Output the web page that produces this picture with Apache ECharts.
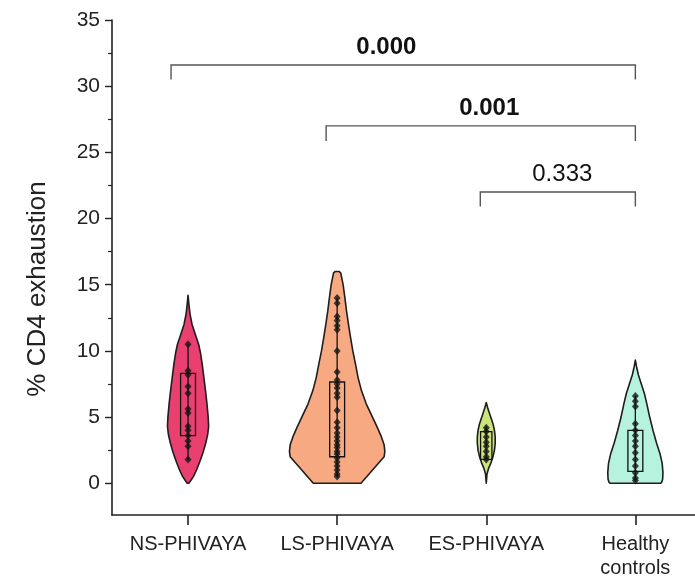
<!DOCTYPE html>
<html>
<head>
<meta charset="utf-8">
<script src="https://cdn.jsdelivr.net/npm/echarts@6/dist/echarts.min.js"></script>
<style>
html,body{margin:0;padding:0;background:#fff;}
#chart{width:695px;height:581px;}
</style>
</head>
<body>
<div id="chart"></div>
<script>
// ---- data ----
const categories = ['NS-PHIVAYA', 'LS-PHIVAYA', 'ES-PHIVAYA', 'Healthy\ncontrols'];
const yTickValues = [0, 5, 10, 15, 20, 25, 30, 35];
const yMinorTickValues = [2.5, 7.5, 12.5, 17.5, 22.5, 27.5, 32.5];

// observed values per group
const nsPoints = [10.5, 8.5, 8.2, 7.3, 6.8, 5.6, 5.3, 4.3, 4.0, 3.6, 3.2, 2.8, 1.8];
const lsPoints = [14.0, 13.6, 12.6, 12.3, 11.9, 11.6, 10.0, 8.4, 7.8, 7.5, 7.2, 6.8, 6.5, 5.5, 4.6, 4.2, 3.8, 3.5, 3.2, 2.9, 2.7, 2.4, 2.2, 1.9, 1.6, 1.3, 1.0, 0.7, 0.5];
const esPoints = [4.2, 3.9, 3.5, 3.1, 2.8, 2.4, 2.0, 1.8];
const hcPoints = [6.6, 6.2, 5.8, 4.5, 4.0, 3.6, 3.2, 2.8, 2.3, 1.8, 1.3, 0.8, 0.4, 0.2];

// violin density profiles: [value, half-width in category units]
const nsViolin = [[14.2,0],[13.5,0.006],[12.8,0.013],[12,0.027],[11.2,0.05],[10.5,0.071],[9.8,0.084],[9,0.095],[8,0.106],[7,0.117],[6,0.127],[5,0.135],[4.3,0.138],[3.7,0.132],[3,0.118],[2.3,0.1],[1.6,0.078],[1,0.057],[0.5,0.036],[0.15,0.015],[0,0.005]];
const lsViolin = [[16,0.012],[15.9,0.024],[15,0.04],[14,0.052],[13,0.063],[12,0.076],[11,0.09],[10,0.105],[9,0.123],[8,0.14],[7,0.163],[6,0.195],[5,0.237],[4.2,0.27],[3.5,0.297],[2.9,0.315],[2.4,0.32],[2.0,0.315],[0,0.16]];
const esViolin = [[6.1,0],[5.6,0.012],[5.0,0.03],[4.5,0.045],[4.0,0.055],[3.5,0.06],[3.0,0.06],[2.5,0.055],[2.0,0.045],[1.5,0.03],[1.1,0.015],[0.7,0.005],[0,0]];
const hcViolin = [[9.3,0],[8.8,0.008],[8.2,0.02],[7.5,0.04],[6.8,0.06],[6,0.077],[5,0.096],[4,0.118],[3,0.143],[2.2,0.166],[1.5,0.18],[0.8,0.185],[0.3,0.183],[0.05,0.176],[0,0.168]];

// box stats: [lower whisker, Q1, Q3, upper whisker]
const nsBox = [1.8, 3.6, 8.3, 10.5];
const lsBox = [0.5, 2.0, 7.65, 14.0];
const esBox = [1.7, 1.8, 3.9, 4.3];
const hcBox = [0.2, 0.9, 4.0, 6.6];

// significance brackets
const bracketLabels = ['0.000', '0.001', '0.333'];
const bracketFrom = [0.886, 1.926, 2.96];
const bracketTo = [4, 4, 4];
const bracketLevel = [31.6, 27.0, 22.0];
const bracketFoot = [30.5, 25.85, 20.9];
const bracketLabelAt = [2.33, 3.02, 3.51];

// ---- styles ----
const fills = ['#e9406f', '#f7aa82', '#cbe57c', '#b6f3de'];
const boxHalf = [0.05, 0.05, 0.038, 0.05];

const violins = [nsViolin, lsViolin, esViolin, hcViolin];
const boxes = [nsBox, lsBox, esBox, hcBox];
const pointsAll = [nsPoints, lsPoints, esPoints, hcPoints];

const scatterData = [];
pointsAll.forEach((arr, i) => arr.forEach(v => scatterData.push([i + 1, v])));

const chart = echarts.init(document.getElementById('chart'), null, {renderer: 'canvas'});

function renderViolin(params, api) {
  const i = api.value(0);
  const idx = i - 1;
  const prof = violins[idx];
  const pts = [];
  prof.forEach(p => pts.push(api.coord([i + p[1], p[0]])));
  for (let k = prof.length - 1; k >= 0; k--) pts.push(api.coord([i - prof[k][1], prof[k][0]]));
  const b = boxes[idx];
  const tl = api.coord([i - boxHalf[idx], b[2]]);
  const br = api.coord([i + boxHalf[idx], b[1]]);
  const wTop = api.coord([i, b[3]]);
  const wBot = api.coord([i, b[0]]);
  return {
    type: 'group',
    children: [
      {type: 'polygon', shape: {points: pts}, style: {fill: fills[idx], stroke: '#1e1e1e', lineWidth: 1.6, lineJoin: 'round'}},
      {type: 'line', shape: {x1: wTop[0], y1: wTop[1], x2: wBot[0], y2: wBot[1]}, style: {stroke: '#111', lineWidth: 1.3}},
      {type: 'rect', shape: {x: tl[0], y: tl[1], width: br[0] - tl[0], height: br[1] - tl[1]}, style: {fill: 'none', stroke: '#111', lineWidth: 1.3}}
    ]
  };
}

function renderBracket(params, api) {
  const j = params.dataIndex;
  const a = api.coord([bracketFrom[j], bracketLevel[j]]);
  const b = api.coord([bracketTo[j], bracketLevel[j]]);
  const fa = api.coord([bracketFrom[j], bracketFoot[j]]);
  const fb = api.coord([bracketTo[j], bracketFoot[j]]);
  const t = api.coord([bracketLabelAt[j], bracketLevel[j]]);
  const bold = parseFloat(bracketLabels[j]) < 0.05;
  return {
    type: 'group',
    children: [
      {type: 'polyline', shape: {points: [fa, a, b, fb]}, style: {fill: 'none', stroke: '#555', lineWidth: 1.4}},
      {type: 'text', x: t[0], y: t[1] - 6,
       style: {text: bracketLabels[j], fill: '#111', font: (bold ? 'bold ' : '') + '24px "Liberation Sans", Arial, sans-serif', textAlign: 'center', textVerticalAlign: 'bottom'}}
    ]
  };
}

const axisFont = '"Liberation Sans", Arial, sans-serif';

chart.setOption({
  animation: false,
  backgroundColor: '#fff',
  grid: {left: 112, right: 0, top: 20, bottom: 66, containLabel: false},
  xAxis: {
    type: 'value', min: 0.49, max: 4.4,
    splitLine: {show: false},
    axisLine: {show: true, onZero: false, lineStyle: {color: '#222', width: 1.6}},
    axisTick: {show: true, customValues: [1, 2, 3, 4], length: 10, inside: false, lineStyle: {color: '#222', width: 1.6}},
    axisLabel: {customValues: [1, 2, 3, 4], margin: 17, color: '#222', fontSize: 20, fontFamily: axisFont, lineHeight: 24,
      formatter: v => categories[Math.round(v) - 1] || ''}
  },
  yAxis: [{
    type: 'value', min: -2.4, max: 35,
    splitLine: {show: false},
    axisLine: {show: true, onZero: false, lineStyle: {color: '#222', width: 1.6}},
    axisTick: {show: true, customValues: yTickValues, length: 7, lineStyle: {color: '#222', width: 1.4}},
    axisLabel: {customValues: yTickValues, margin: 12, color: '#222', fontSize: 21, fontFamily: axisFont}
  }, {
    type: 'value', min: -2.4, max: 35, position: 'left',
    splitLine: {show: false},
    axisLine: {show: false, onZero: false},
    axisTick: {show: true, customValues: yMinorTickValues, length: 4, lineStyle: {color: '#222', width: 1.2}},
    axisLabel: {show: false}
  }],
  graphic: [{
    type: 'text', x: 38, y: 289, rotation: Math.PI / 2,
    style: {text: '% CD4 exhaustion', fill: '#222', font: '26px ' + axisFont, textAlign: 'center', textVerticalAlign: 'middle'}
  }],
  series: [{
    type: 'custom', renderItem: renderViolin, clip: false,
    data: [[1], [2], [3], [4]], z: 2
  }, {
    type: 'scatter', data: scatterData, symbol: 'diamond', symbolSize: [7, 8],
    itemStyle: {color: '#151515'}, z: 3
  }, {
    type: 'custom', renderItem: renderBracket, clip: false,
    data: bracketLabels.map((l, j) => [bracketFrom[j], bracketLevel[j]]), z: 4
  }]
});
</script>
</body>
</html>
